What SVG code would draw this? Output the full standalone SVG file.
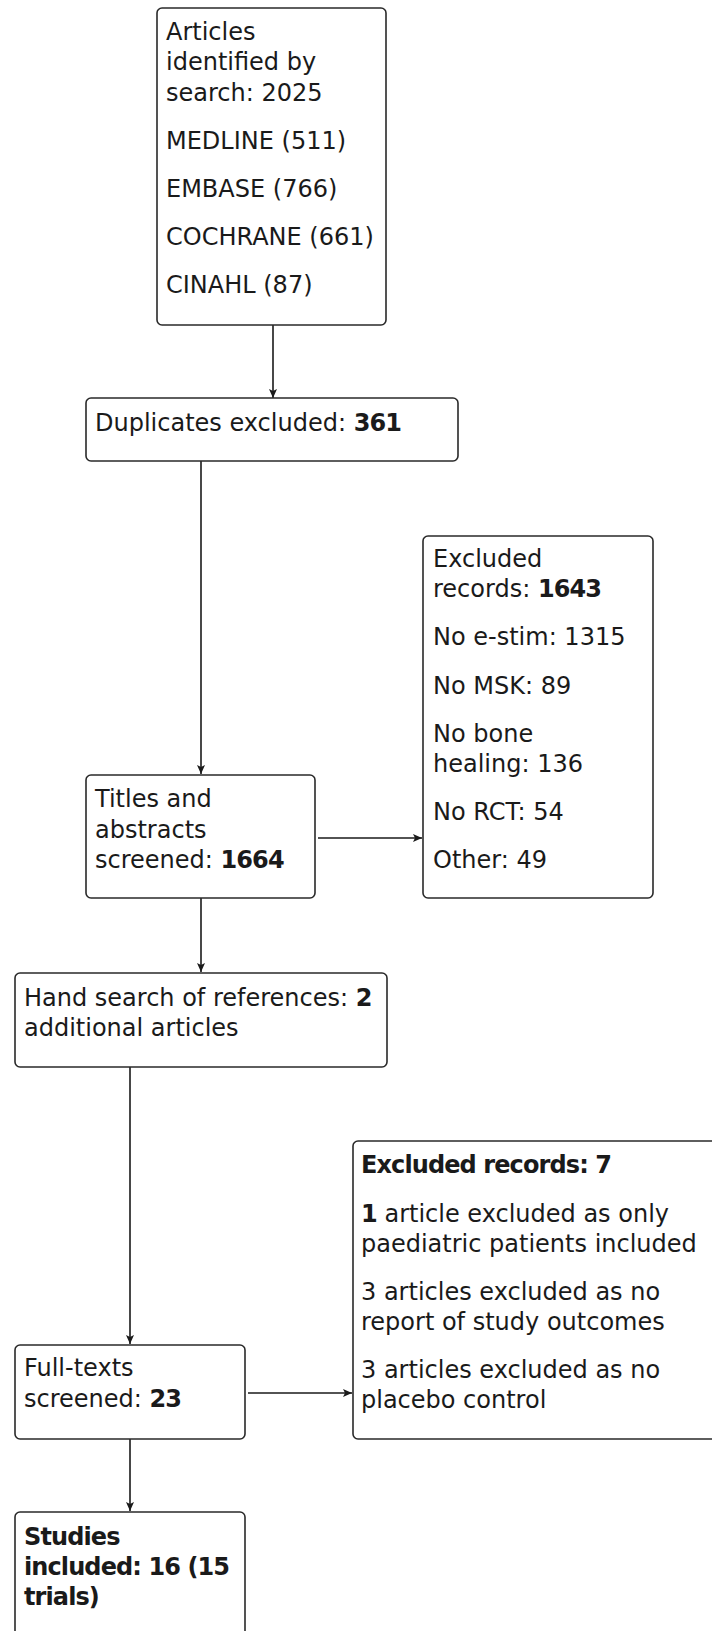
<svg xmlns="http://www.w3.org/2000/svg" width="712" height="1631" viewBox="0 0 712 1631">
<style>
.box{fill:#ffffff;stroke:#2a2a2a;stroke-width:1.6}
.t{font-family:"DejaVu Sans","Liberation Sans",sans-serif;font-size:24px;fill:#1a1a1a}
.b{font-weight:bold;letter-spacing:-0.9px}
.c{stroke:#1a1a1a;stroke-width:1.6;fill:none}
</style>
<defs>
<marker id="ah" markerWidth="12" markerHeight="12" refX="10" refY="6" orient="auto" markerUnits="userSpaceOnUse">
<path d="M1,2 L10,6 L1,10 L3,6 Z" fill="#1a1a1a"/>
</marker>
</defs>
<rect width="712" height="1631" fill="#ffffff"/>
<g id="connectors">
<line class="c" x1="273" y1="325" x2="273" y2="398" marker-end="url(#ah)"/>
<line class="c" x1="201" y1="461" x2="201" y2="774" marker-end="url(#ah)"/>
<line class="c" x1="318" y1="838" x2="422" y2="838" marker-end="url(#ah)"/>
<line class="c" x1="201" y1="898" x2="201" y2="972" marker-end="url(#ah)"/>
<line class="c" x1="130" y1="1067" x2="130" y2="1344" marker-end="url(#ah)"/>
<line class="c" x1="248" y1="1393" x2="352" y2="1393" marker-end="url(#ah)"/>
<line class="c" x1="130" y1="1439" x2="130" y2="1511" marker-end="url(#ah)"/>
</g>
<g id="n1">
<rect class="box" x="157" y="8" width="229" height="317" rx="5"/>
<text class="t" x="166" y="40">Articles</text>
<text class="t" x="166" y="70">identified by</text>
<text class="t" x="166" y="101">search: 2025</text>
<text class="t" x="166" y="149">MEDLINE (511)</text>
<text class="t" x="166" y="197">EMBASE (766)</text>
<text class="t" x="166" y="245">COCHRANE (661)</text>
<text class="t" x="166" y="293">CINAHL (87)</text>
</g>
<g id="n2">
<rect class="box" x="86" y="398" width="372" height="63" rx="5"/>
<text class="t" x="95" y="431">Duplicates excluded: <tspan class="b">361</tspan></text>
</g>
<g id="n3">
<rect class="box" x="86" y="775" width="229" height="123" rx="5"/>
<text class="t" x="95" y="807">Titles and</text>
<text class="t" x="95" y="838">abstracts</text>
<text class="t" x="95" y="868">screened: <tspan class="b">1664</tspan></text>
</g>
<g id="n4">
<rect class="box" x="423" y="536" width="230" height="362" rx="5"/>
<text class="t" x="433" y="567">Excluded</text>
<text class="t" x="433" y="597">records: <tspan class="b">1643</tspan></text>
<text class="t" x="433" y="645">No e-stim: 1315</text>
<text class="t" x="433" y="694">No MSK: 89</text>
<text class="t" x="433" y="742">No bone</text>
<text class="t" x="433" y="772">healing: 136</text>
<text class="t" x="433" y="820">No RCT: 54</text>
<text class="t" x="433" y="868">Other: 49</text>
</g>
<g id="n5">
<rect class="box" x="15" y="973" width="372" height="94" rx="5"/>
<text class="t" x="24" y="1006">Hand search of references: <tspan class="b">2</tspan></text>
<text class="t" x="24" y="1036">additional articles</text>
</g>
<g id="n6">
<rect class="box" x="15" y="1345" width="230" height="94" rx="5"/>
<text class="t" x="24" y="1376">Full-texts</text>
<text class="t" x="24" y="1407">screened: <tspan class="b">23</tspan></text>
</g>
<g id="n7">
<rect class="box" x="353" y="1141" width="372" height="298" rx="5"/>
<text class="t b" x="361" y="1173">Excluded records: 7</text>
<text class="t" x="361" y="1222"><tspan class="b">1</tspan> article excluded as only</text>
<text class="t" x="361" y="1252">paediatric patients included</text>
<text class="t" x="361" y="1300">3 articles excluded as no</text>
<text class="t" x="361" y="1330">report of study outcomes</text>
<text class="t" x="361" y="1378">3 articles excluded as no</text>
<text class="t" x="361" y="1408">placebo control</text>
</g>
<g id="n8">
<rect class="box" x="15" y="1512" width="230" height="140" rx="5"/>
<text class="t b" x="24" y="1545">Studies</text>
<text class="t b" x="24" y="1575">included: 16 (15</text>
<text class="t b" x="24" y="1605">trials)</text>
</g>
</svg>
